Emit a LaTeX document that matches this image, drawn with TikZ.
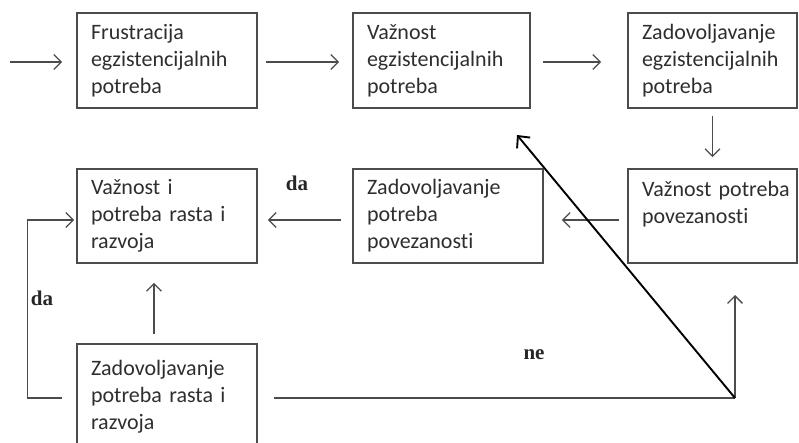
\documentclass[tikz,border=0pt]{standalone}
\usepackage{fontspec}
\setmainfont{Carlito}[Ligatures=NoCommon]
\newfontfamily\labfont{Liberation Serif}
\usetikzlibrary{arrows.meta}
\begin{document}
\begin{tikzpicture}[x=1pt,y=-1pt,
 box/.style={draw=black!70, line width=1.6pt, rectangle, align=left, inner xsep=14pt, inner ysep=0pt, font=\fontsize{22}{27}\selectfont, text=black!82},
 conn/.style={draw=black!70, line width=1.3pt},
 arr/.style={conn, -{Straight Barb[length=7.5pt,width=15pt,line width=1.3pt]}},
 bigarr/.style={draw=black, line width=1.9pt, -{Straight Barb[length=9pt,width=17pt,line width=1.9pt]}},
 lab/.style={font=\labfont\bfseries\fontsize{21}{24}\selectfont, text=black!85}]
\useasboundingbox (0,0) rectangle (799,443);
\clip (0,0) rectangle (799,443);
\node[box, text width=152pt, minimum height=95pt] (b1) at (167,60.5) {Frustracija\\egzistencijalnih\\potreba};
\node[box, text width=149pt, minimum height=95pt] (b2) at (441.5,60.5) {Važnost\\egzistencijalnih\\potreba};
\node[box, text width=141pt, minimum height=95pt] (b3) at (712.5,60.5) {Zadovoljavanje\\\mbox{egzistencijalnih}\\potreba};
\node[box, text width=152pt, minimum height=94pt] (b4) at (167,216) {Važnost i\\potreba rasta i\\razvoja};
\node[box, text width=162pt, minimum height=94pt] (b5) at (448,216) {Zadovoljavanje\\potreba\\povezanosti};
\node[box, text width=141pt, minimum height=94pt] (b6) at (712.5,216) {\mbox{Važnost potreba}\\povezanosti\\\mbox{}};
\node[box, text width=152pt, minimum height=105pt] (b7) at (167,396.5) {Zadovoljavanje\\potreba rasta i\\razvoja};
\coordinate (start) at (10,62);
\coordinate (corner) at (735,398);
\coordinate (upend) at (735,295);
\coordinate (tip) at (517,135);
\draw[arr, shorten >=14pt] (start) -- ([yshift=-1.5pt]b1.west);
\draw[arr, shorten <=8pt, shorten >=13pt] ([yshift=-1.5pt]b1.east) -- ([yshift=-1.5pt]b2.west);
\draw[arr, shorten <=12pt, shorten >=26pt] ([yshift=-1.5pt]b2.east) -- ([yshift=-1.5pt]b3.west);
\draw[arr, shorten <=7pt, shorten >=11pt] (b3.south) -- (b6.north);
\draw[arr, shorten <=8pt, shorten >=18pt] ([yshift=-4pt]b6.west) -- ([yshift=-4pt]b5.east);
\draw[arr, shorten <=11pt, shorten >=10pt] ([yshift=-4pt]b5.west) -- ([yshift=-4pt]b4.east);
\draw[arr, shorten <=9pt, shorten >=19pt] ([xshift=-13pt]b7.north) -- ([xshift=-13pt]b4.south);
\draw[arr, shorten <=14pt, shorten >=2pt] ([yshift=-1.5pt]b7.west) -- ++(-49,0) |- ([yshift=-4pt]b4.west);
\draw[conn, shorten <=16pt] ([yshift=-1.5pt]b7.east) -- (corner);
\draw[arr] (corner) -- (upend);
\draw[bigarr] (corner) -- (tip);
\node[lab] (da1) at (297,183) {da};
\node[lab] (da2) at (42,298) {da};
\node[lab] (ne) at (534,355) {ne};
\end{tikzpicture}
\end{document}
